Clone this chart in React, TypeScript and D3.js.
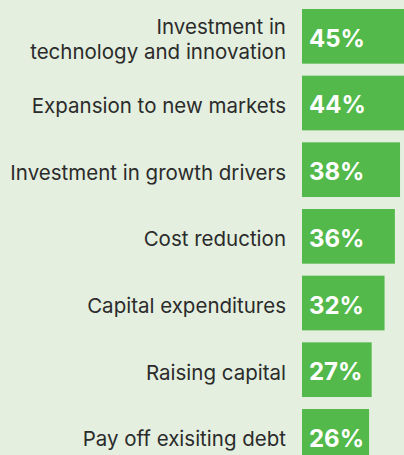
import { useEffect, useRef } from 'react';
import * as d3 from 'd3';

const categories = [
  ['Investment in', 'technology and innovation'],
  ['Expansion to new markets'],
  ['Investment in growth drivers'],
  ['Cost reduction'],
  ['Capital expenditures'],
  ['Raising capital'],
  ['Pay off exisiting debt'],
];
const values = [45, 44, 38, 36, 32, 27, 26];

export default function App() {
  const svgRef = useRef<SVGSVGElement>(null);

  useEffect(() => {
    const svg = d3.select(svgRef.current);
    svg.selectAll('*').remove();

    const W = 404, H = 455;
    const barX = 302;
    svg.attr('width', W).attr('height', H);

    // Background
    svg.append('rect').attr('width', W).attr('height', H).attr('fill', '#e4efdf');

    const keys = categories.map((_, i) => String(i));
    const y = d3.scaleBand().domain(keys).range([9, 463.7]).paddingInner(0.18).paddingOuter(0);
    const x = d3.scaleLinear().domain([0, 100]).range([0, 258]);

    const rows = svg.selectAll('g.row')
      .data(values)
      .join('g')
      .attr('class', 'row')
      .attr('transform', (_, i) => `translate(0,${y(String(i))})`);

    const bw = y.bandwidth();

    rows.append('rect')
      .attr('x', barX)
      .attr('width', d => x(d))
      .attr('height', bw)
      .attr('fill', '#52b94a');

    rows.append('text')
      .attr('x', barX + 7)
      .attr('y', bw / 2 + 10.5)
      .attr('font-family', 'Inter, sans-serif')
      .attr('font-weight', 700)
      .attr('font-size', 24)
      .attr('fill', '#ffffff')
      .text(d => `${d}%`);

    // Category labels (multi-line where needed)
    rows.each(function (_, i) {
      const lines = categories[i];
      const lh = 25;
      const base = bw / 2 + 10 - ((lines.length - 1) * lh) / 2;
      const t = d3.select(this).append('text')
        .attr('text-anchor', 'end')
        .attr('font-family', 'Inter, sans-serif')
        .attr('font-size', 20.5)
        .attr('fill', '#2b2b2b');
      lines.forEach((l, j) => {
        t.append('tspan').attr('x', barX - 16).attr('y', base + j * lh).text(l);
      });
    });
  }, []);

  return (
    <svg ref={svgRef} style={{ position: 'absolute', top: 0, left: 0, display: 'block' }} />
  );
}
